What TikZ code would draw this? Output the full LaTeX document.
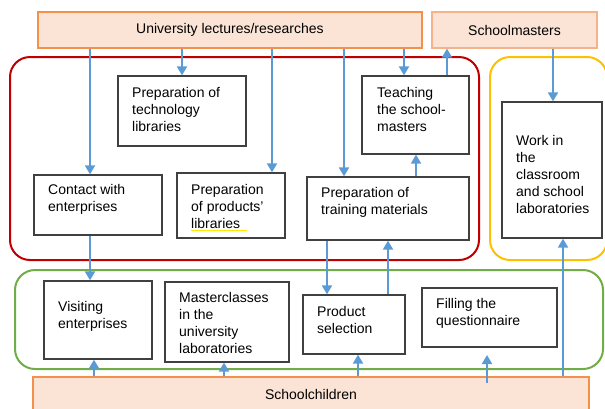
\documentclass[tikz,border=0pt]{standalone}
\usepackage{fontspec}
\setmainfont{Liberation Sans}
\usetikzlibrary{arrows.meta}
\definecolor{orbd}{HTML}{F4904A}
\definecolor{orbd2}{HTML}{F6B38A}
\definecolor{orfill}{HTML}{FBE4D6}
\definecolor{redc}{HTML}{C00000}
\definecolor{yelc}{HTML}{FFC000}
\definecolor{grnc}{HTML}{70AD47}
\definecolor{bluc}{HTML}{5B9BD5}
\definecolor{boxc}{HTML}{404040}
\begin{document}
\begin{tikzpicture}[x=1pt,y=-1pt,
  every node/.style={font=\fontsize{14}{17}\selectfont},
  bx/.style={draw=boxc,line width=1.3pt,fill=white,inner sep=0pt},
  ob/.style={draw=orbd,line width=1.2pt,fill=orfill,inner sep=0pt},
  txt/.style={align=left,inner sep=0pt,anchor=west},
  cont/.style={line width=2pt,rounded corners=20pt},
  arr/.style={draw=bluc,line width=2pt,-{Triangle[width=10pt,length=9pt]}}]
\useasboundingbox (0,0) rectangle (605,408);
% containers
\draw[cont,redc] (10,57) rectangle (479,260);
\draw[cont,yelc] (490,57) rectangle (607,260);
\draw[cont,grnc] (15,270) rectangle (603,369);
% orange boxes
\node[ob,minimum width=384pt,minimum height=36pt] (univ) at (230,30) {University lectures/researches};
\node[ob,draw=orbd2,minimum width=165pt,minimum height=36pt] (smast) at (514.5,30) {Schoolmasters};
\node[ob,minimum width=556pt,minimum height=35pt] (kids) at (311,394.5) {Schoolchildren};
% boxes
\node[bx,minimum width=128pt,minimum height=70pt] (tech) at (182,111) {};
\node[bx,minimum width=107pt,minimum height=78pt] (teach) at (415.5,115) {};
\node[bx,minimum width=100pt,minimum height=136pt] (work) at (552,170) {};
\node[bx,minimum width=128pt,minimum height=60pt] (contact) at (98,205) {};
\node[bx,minimum width=108pt,minimum height=65pt] (prod) at (231,205.5) {};
\node[bx,minimum width=162pt,minimum height=63pt] (train) at (388,208.5) {};
\node[bx,minimum width=108pt,minimum height=78pt] (visit) at (98,320) {};
\node[bx,minimum width=124pt,minimum height=80pt] (master) at (227,322) {};
\node[bx,minimum width=102pt,minimum height=59pt] (psel) at (354,324.5) {};
\node[bx,minimum width=135pt,minimum height=59pt] (fill) at (489.5,317.5) {};
% texts
\node[txt] (techT) at (132,109) {Preparation of\\technology\\libraries};
\node[txt] (teachT) at (377,109) {Teaching\\the school-\\masters};
\node[txt] (workT) at (516,174) {Work in\\the\\classroom\\and school\\laboratories};
\node[txt] (contactT) at (48,199.5) {Contact with\\enterprises};
\node[txt] (prodT) at (191,206) {Preparation\\of products'\\libraries};
\node[txt] (trainT) at (321,202) {Preparation of\\training materials};
\node[txt] (visitT) at (58,316) {Visiting\\enterprises};
\node[txt] (masterT) at (179,322.5) {Masterclasses\\in the\\university\\laboratories};
\node[txt] (pselT) at (317,319.5) {Product\\selection};
\node[txt] (fillT) at (436,313) {Filling the\\questionnaire};
\draw[yellow!90!orange,line width=1pt] (191,230) -- (247,230);
% arrows
\draw[arr] (univ.south -| 90,0) -- (contact.north -| 90,0);
\draw[arr] (univ.south -| 182,0) -- (tech.north -| 182,0);
\draw[arr] (univ.south -| 272,0) -- (prod.north -| 272,0);
\draw[arr] (univ.south -| 344,0) -- (train.north -| 344,0);
\draw[arr] (univ.south -| 404,0) -- (teach.north -| 404,0);
\draw[arr] (teach.north -| 447,0) -- (smast.south -| 447,0);
\draw[arr] (smast.south -| 553,0) -- (work.north -| 553,0);
\draw[arr] (train.north -| 416,0) -- (teach.south -| 416,0);
\draw[arr] (contact.south -| 90,0) -- (visit.north -| 90,0);
\draw[arr] (train.south -| 327,0) -- (psel.north -| 327,0);
\draw[arr] (psel.north -| 388,0) -- (train.south -| 388,0);
\draw[arr] (kids.north -| 94,0) -- (visit.south -| 94,0);
\draw[arr] (kids.north -| 224,0) -- (master.south -| 224,0);
\draw[arr] (kids.north -| 358,0) -- (psel.south -| 358,0);
\coordinate (qs) at (487,383);
\coordinate (qe) at (487,355);
\draw[arr] (qs) -- (qe);
\draw[arr] (kids.north -| 563,0) -- (work.south -| 563,0);
\end{tikzpicture}
\end{document}
